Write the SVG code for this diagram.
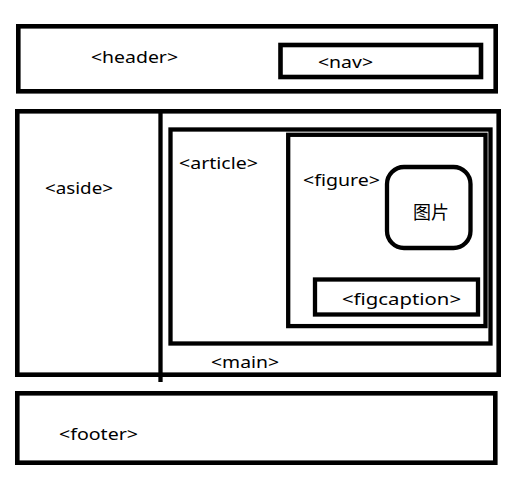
<svg xmlns="http://www.w3.org/2000/svg" width="527" height="480" viewBox="0 0 527 480">
<style>
.box{fill:none;stroke:#000;stroke-width:4.6}
.thin{fill:none;stroke:#000;stroke-width:4.3}
text{font-family:"Noto Sans","Liberation Sans","Noto Sans CJK SC",sans-serif;font-size:16px;fill:#000}
.cjk{font-family:"Noto Sans CJK SC","Noto Sans",sans-serif;font-size:18px}
</style>
<rect width="527" height="480" fill="#fff"/>
<g id="header">
<rect class="box" x="18.3" y="26.3" width="477.4" height="65"/>
<text x="91" y="63" textLength="87" lengthAdjust="spacingAndGlyphs">&lt;header&gt;</text>
</g>
<g id="nav">
<rect class="box" x="280.5" y="45" width="200.5" height="32"/>
<text x="318" y="68" textLength="55" lengthAdjust="spacingAndGlyphs">&lt;nav&gt;</text>
</g>
<g id="main">
<rect class="box" x="17.3" y="111.3" width="481.4" height="263.4"/>
<text x="211" y="368" textLength="68" lengthAdjust="spacingAndGlyphs">&lt;main&gt;</text>
</g>
<g id="aside">
<line x1="160.5" y1="109" x2="160.5" y2="382" stroke="#000" stroke-width="4.3"/>
<text x="45" y="194" textLength="68" lengthAdjust="spacingAndGlyphs">&lt;aside&gt;</text>
</g>
<g id="article">
<rect class="thin" x="170.5" y="129.5" width="320" height="214"/>
<text x="179" y="169" textLength="79" lengthAdjust="spacingAndGlyphs">&lt;article&gt;</text>
</g>
<g id="figure">
<rect class="thin" x="288.2" y="134.8" width="197.3" height="191.3"/>
<text x="303" y="186" textLength="77" lengthAdjust="spacingAndGlyphs">&lt;figure&gt;</text>
</g>
<g id="image">
<rect class="thin" x="387" y="167" width="83.5" height="81" rx="17" ry="17"/>
<text class="cjk" x="431" y="219" text-anchor="middle">图片</text>
</g>
<g id="figcaption">
<rect class="thin" x="315" y="279.5" width="163" height="35"/>
<text x="342" y="305" textLength="119" lengthAdjust="spacingAndGlyphs">&lt;figcaption&gt;</text>
</g>
<g id="footer">
<rect class="box" x="17.3" y="393.3" width="478" height="69.4"/>
<text x="59" y="440" textLength="79" lengthAdjust="spacingAndGlyphs">&lt;footer&gt;</text>
</g>
<g id="connectors"></g>
</svg>
